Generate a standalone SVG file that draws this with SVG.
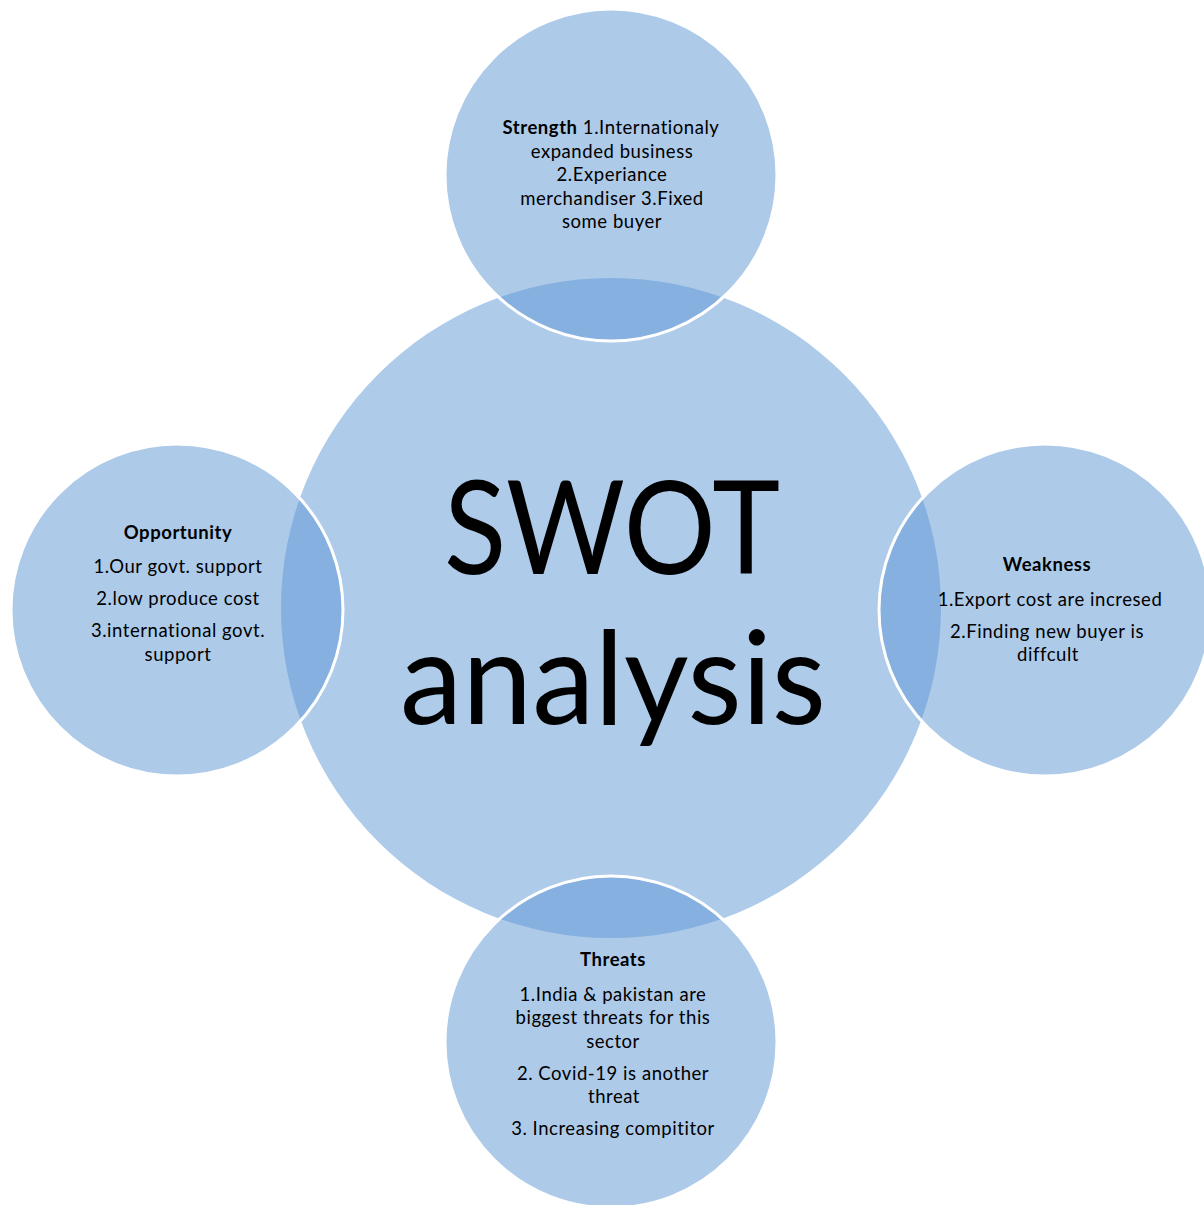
<svg xmlns="http://www.w3.org/2000/svg" width="1204" height="1205" viewBox="0 0 1204 1205">
<style>
.big{fill:#AECBEA;}
.sm{fill:#5B96D4;fill-opacity:0.5;stroke:#FFFFFF;stroke-width:3;}
.t{font-family:Lato,"Liberation Sans",sans-serif;font-size:18.5px;letter-spacing:0.55px;fill:#000;text-anchor:middle;}
.b{font-weight:bold;}
.title{font-family:Lato,"Liberation Sans",sans-serif;font-size:130px;fill:#000;text-anchor:middle;}
</style>
<rect width="1204" height="1205" fill="#FFFFFF"/>
<g id="center">
<circle class="big" cx="611" cy="608" r="330"/>
<text class="title" x="612" y="574" textLength="336" lengthAdjust="spacingAndGlyphs">SWOT</text>
<text class="title" x="613" y="724" textLength="426" lengthAdjust="spacingAndGlyphs">analysis</text>
</g>
<g id="strength">
<circle class="sm" cx="611" cy="175" r="166"/>
<text class="t" x="611" y="134"><tspan class="b">Strength</tspan> 1.Internationaly</text>
<text class="t" x="612" y="158">expanded business</text>
<text class="t" x="612" y="181">2.Experiance</text>
<text class="t" x="612" y="205">merchandiser 3.Fixed</text>
<text class="t" x="612" y="228">some buyer</text>
</g>
<g id="opportunity">
<circle class="sm" cx="177" cy="610" r="166"/>
<text class="t b" x="178" y="539">Opportunity</text>
<text class="t" x="178" y="573">1.Our govt. support</text>
<text class="t" x="178" y="605">2.low produce cost</text>
<text class="t" x="178" y="637">3.international govt.</text>
<text class="t" x="178" y="661">support</text>
</g>
<g id="weakness">
<circle class="sm" cx="1045" cy="610" r="166"/>
<text class="t b" x="1047" y="571">Weakness</text>
<text class="t" x="1050" y="606">1.Export cost are incresed</text>
<text class="t" x="1047" y="638">2.Finding new buyer is</text>
<text class="t" x="1048" y="661">diffcult</text>
</g>
<g id="threats">
<circle class="sm" cx="611" cy="1042" r="166"/>
<text class="t b" x="613" y="966">Threats</text>
<text class="t" x="613" y="1001">1.India &amp; pakistan are</text>
<text class="t" x="613" y="1024">biggest threats for this</text>
<text class="t" x="613" y="1048">sector</text>
<text class="t" x="613" y="1080">2. Covid-19 is another</text>
<text class="t" x="614" y="1103">threat</text>
<text class="t" x="613" y="1135">3. Increasing compititor</text>
</g>
<g id="connectors"></g>
</svg>
